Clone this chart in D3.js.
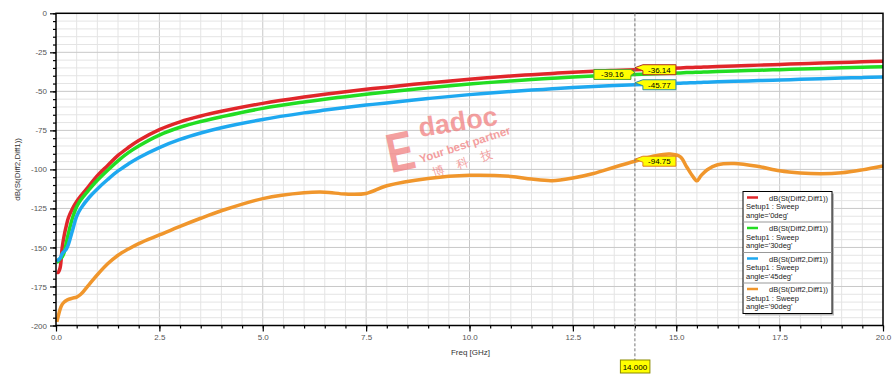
<!DOCTYPE html>
<html>
<head>
<meta charset="utf-8">
<script src="https://cdn.jsdelivr.net/npm/d3@7"></script>
<style>
  body { margin: 0; background: #fff; }
  svg { display: block; }
  text { font-family: "Liberation Sans", Arial, sans-serif; }
</style>
</head>
<body>
<svg id="chart"></svg>
<script>
// frequency points (GHz) shared by all traces
const freq = [0.02, 0.05, 0.1, 0.15, 0.2, 0.25, 0.3, 0.4, 0.5, 0.6, 0.8, 1.0, 1.25, 1.5, 1.75, 2.0, 2.5,
  3.0, 3.5, 4.0, 5.0, 6.0, 6.5, 7.0, 7.5, 8.0, 9.0, 10.0, 11.0, 11.5, 12.0, 12.5, 13.0, 13.5, 14.0,
  14.5, 14.85, 15.1, 15.25, 15.4, 15.5, 15.6, 15.75, 16.0, 16.4, 17.0, 17.5, 18.0, 18.5, 19.0, 19.5, 20.0]

const deg0 = [-166, -166, -163, -150, -142, -136, -131, -125, -120.5, -117, -110.5, -104, -97.5, -91, -86, -81.5, -74.5,
  -69.5, -65.8, -62.8, -57.7, -53.6, -51.8, -50.2, -48.7, -47.3, -44.6, -42.2, -40.2, -39.3, -38.5, -37.7, -37.1, -36.6, -36.14,
  -35.6, -35.2, -35.0, -34.8, -34.7, -34.6, -34.5, -34.4, -34.1, -33.8, -33.2, -32.8, -32.3, -31.9, -31.5, -31.1, -30.7]

const deg30 = [-159.5, -159, -157, -156, -153, -147, -141, -131, -124, -119.5, -113, -107, -100.5, -94.5, -89.3, -85, -78,
  -73, -69.3, -66.3, -60.9, -56.8, -55, -53.4, -51.8, -50.4, -47.7, -45.3, -43.3, -42.4, -41.6, -40.8, -40.2, -39.7, -39.16,
  -38.7, -38.4, -38.2, -38.0, -37.9, -37.8, -37.7, -37.6, -37.3, -37.0, -36.5, -36.1, -35.7, -35.3, -34.9, -34.6, -34.2]

const deg45 = [-159, -158, -157, -154, -152.5, -151, -148, -139, -130, -125, -118, -112.5, -106.5, -101, -96.5, -92.5, -86,
  -80.8, -76.7, -73.3, -68, -63.8, -62, -60.3, -58.8, -57.4, -54.6, -52.1, -50.1, -49.2, -48.4, -47.6, -46.9, -46.3, -45.77,
  -45.3, -45.0, -44.8, -44.6, -44.5, -44.4, -44.3, -44.1, -43.9, -43.6, -43.1, -42.7, -42.3, -41.9, -41.5, -41.2, -40.8]

const deg90 = [-197.7, -194.5, -189.5, -186.5, -185, -184, -183.3, -182.5, -181.8, -180, -173.8, -167.5, -160.5, -155, -151, -147.5, -142,
  -136.5, -131.3, -126.5, -118.7, -115, -114.6, -115.8, -115.4, -110.5, -105.8, -103.8, -104.5, -106.2, -107.2, -105.5, -102.6, -98.6, -94.75,
  -91.2, -90.2, -92, -98.3, -104.5, -107.3, -104, -100.2, -97, -96.2, -98.2, -100.9, -102.3, -102.8, -102.2, -100.3, -97.8]

const angles = ["0deg", "30deg", "45deg", "90deg"]
const colors = ["#e0262a", "#22dd22", "#1ea8f0", "#f0962c"]
const markerBorders = ["#b03020", "#50a030", "#3090a0", "#e08020"]
const markerText = ["-36.14", "-39.16", "-45.77", "-94.75"]
const cursorFreq = 14
const xTicks = [0, 2.5, 5, 7.5, 10, 12.5, 15, 17.5, 20]
const yTicks = [0, -25, -50, -75, -100, -125, -150, -175, -200]

const series = [deg0, deg30, deg45, deg90]

const width = 896, height = 380
const svg = d3.select("#chart").attr("width", width).attr("height", height)

const x = d3.scaleLinear().domain([0, 20]).range([56, 883])
const y = d3.scaleLinear().domain([-200, 0]).range([325.5, 13.3])

// grid
const grid = svg.append("g")
grid.selectAll("line.vx")
  .data(d3.range(0.5, 20, 0.5))
  .enter().append("line")
  .attr("x1", d => x(d)).attr("x2", d => x(d))
  .attr("y1", y(0)).attr("y2", y(-200))
  .attr("stroke", d => d % 2.5 === 0 ? "#c8c8c8" : "#e4e4e4")
  .attr("stroke-width", 1)
grid.selectAll("line.hy")
  .data(d3.range(-195, 0, 5))
  .enter().append("line")
  .attr("x1", x(0)).attr("x2", x(20))
  .attr("y1", d => y(d)).attr("y2", d => y(d))
  .attr("stroke", d => d % 25 === 0 ? "#c8c8c8" : "#e4e4e4")
  .attr("stroke-width", 1)

// watermark
const wm = svg.append("g").attr("fill", "#f07878").attr("opacity", 0.7)
wm.append("text").attr("transform", "translate(391,173) rotate(-12) scale(0.85,1.15)")
  .attr("font-family", "Liberation Serif, serif").attr("font-size", 48).attr("font-weight", "bold").text("E")
wm.append("text").attr("transform", "translate(420,137) rotate(-9)")
  .attr("font-size", 27).attr("font-weight", "bold").text("dadoc")
wm.append("text").attr("transform", "translate(421,163) rotate(-18)")
  .attr("font-size", 11.5).attr("font-weight", "bold").text("Your best partner")
wm.append("text").attr("transform", "translate(434,177) rotate(-18)")
  .attr("font-family", "Noto Sans CJK SC").attr("font-size", 12).attr("xml:space", "preserve").text("博    科    技")

// traces
const line = d3.line()
  .x((d, i) => x(freq[i]))
  .y(d => y(d))
  .curve(d3.curveCatmullRom.alpha(0.5))

svg.append("g").selectAll("path")
  .data(series)
  .enter().append("path")
  .attr("d", d => line(d))
  .attr("fill", "none")
  .attr("stroke", (d, i) => colors[i])
  .attr("stroke-width", 3.5)
  .attr("stroke-linejoin", "round")

// frame
svg.append("rect")
  .attr("x", x(0)).attr("y", y(0))
  .attr("width", x(20) - x(0)).attr("height", y(-200) - y(0))
  .attr("fill", "none").attr("stroke", "#000").attr("stroke-width", 1.5)

// axes
const axisStyle = g => {
  g.select(".domain").remove()
  g.selectAll("line").attr("stroke", "#000").attr("stroke-width", 1.2)
  g.selectAll("text").attr("fill", "#555").attr("font-size", 8)
}
svg.append("g").attr("transform", `translate(${x(0)},0)`)
  .call(d3.axisLeft(y).tickValues(d3.range(-200, 1, 5)).tickSize(3).tickFormat(""))
  .call(axisStyle)
svg.append("g").attr("transform", `translate(${x(0)},0)`)
  .call(d3.axisLeft(y).tickValues(yTicks).tickSize(6).tickPadding(3).tickFormat(d => d))
  .call(axisStyle)
svg.append("g").attr("transform", `translate(0,${y(-200)})`)
  .call(d3.axisBottom(x).tickValues(d3.range(0, 20.01, 0.5)).tickSize(3).tickFormat(""))
  .call(axisStyle)
svg.append("g").attr("transform", `translate(0,${y(-200)})`)
  .call(d3.axisBottom(x).tickValues(xTicks).tickSize(6).tickPadding(3).tickFormat(d3.format(".1f")))
  .call(axisStyle)

svg.append("text")
  .attr("x", (x(0) + x(20)) / 2 + 1).attr("y", 355)
  .attr("text-anchor", "middle").attr("font-size", 8).attr("fill", "#333")
  .text("Freq [GHz]")
svg.append("text")
  .attr("transform", `translate(20,${(y(0) + y(-200)) / 2}) rotate(-90)`)
  .attr("text-anchor", "middle").attr("font-size", 8).attr("fill", "#333")
  .text("dB(St(Diff2,Diff1))")

// cursor
const cx = x(cursorFreq)
svg.append("line")
  .attr("x1", cx).attr("x2", cx).attr("y1", y(0)).attr("y2", 360)
  .attr("stroke", "#777").attr("stroke-width", 1).attr("stroke-dasharray", "3,2")
svg.append("rect")
  .attr("x", cx - 14.5).attr("y", 360).attr("width", 29.5).attr("height", 13)
  .attr("fill", "#ffff00").attr("stroke", "#8a8a00").attr("stroke-width", 1)
svg.append("text")
  .attr("x", cx).attr("y", 369.5).attr("text-anchor", "middle").attr("font-size", 8).attr("fill", "#000")
  .text(cursorFreq.toFixed(3))

// marker callouts
const ci = freq.indexOf(cursorFreq)
const markers = svg.append("g")
series.forEach((s, i) => {
  const vy = y(s[ci])
  const left = i === 1
  const w = left ? 37 : 33, h = 10
  const bx = left ? cx - 4 - w : cx + 8
  const g = markers.append("g")
  const pts = left
    ? [[bx, vy - h / 2], [bx + w, vy - h / 2], [cx, vy - 2], [bx + w, vy + 1], [bx + w, vy + h / 2], [bx, vy + h / 2]]
    : [[bx, vy - h / 2], [bx + w, vy - h / 2], [bx + w, vy + h / 2], [bx, vy + h / 2], [bx, vy + 1], [cx, vy - 2]]
  g.append("path")
    .attr("d", d3.line()(pts) + "Z")
    .attr("fill", "#ffff00").attr("stroke", markerBorders[i]).attr("stroke-width", 1)
  g.append("text")
    .attr("x", bx + w / 2).attr("y", vy + 3)
    .attr("text-anchor", "middle").attr("font-size", 8).attr("fill", "#000")
    .text(markerText[i])
})

// legend
const lx = 743, ly = 191.5, lw = 89, rowH = 30.5
const legend = svg.append("g")
legend.append("rect")
  .attr("x", lx + 2).attr("y", ly + 2).attr("width", lw).attr("height", rowH * 4)
  .attr("fill", "#bbb")
legend.append("rect")
  .attr("x", lx).attr("y", ly).attr("width", lw).attr("height", rowH * 4)
  .attr("fill", "#fff").attr("stroke", "#000").attr("stroke-width", 1)
angles.forEach((a, i) => {
  const ty = ly + i * rowH
  if (i > 0) {
    legend.append("line")
      .attr("x1", lx).attr("x2", lx + lw).attr("y1", ty).attr("y2", ty)
      .attr("stroke", "#999")
  }
  legend.append("line")
    .attr("x1", lx + 4).attr("x2", lx + 15).attr("y1", ty + 6).attr("y2", ty + 6)
    .attr("stroke", colors[i]).attr("stroke-width", 2.5)
  legend.append("text")
    .attr("x", lx + lw - 4).attr("y", ty + 9).attr("text-anchor", "end")
    .attr("font-size", 7.5).attr("fill", "#222").text("dB(St(Diff2,Diff1))")
  legend.append("text")
    .attr("x", lx + 3).attr("y", ty + 17.5)
    .attr("font-size", 7.5).attr("fill", "#222").text("Setup1 : Sweep")
  legend.append("text")
    .attr("x", lx + 3).attr("y", ty + 26)
    .attr("font-size", 7.5).attr("fill", "#222").text("angle='" + a + "'")
})
</script>
</body>
</html>
